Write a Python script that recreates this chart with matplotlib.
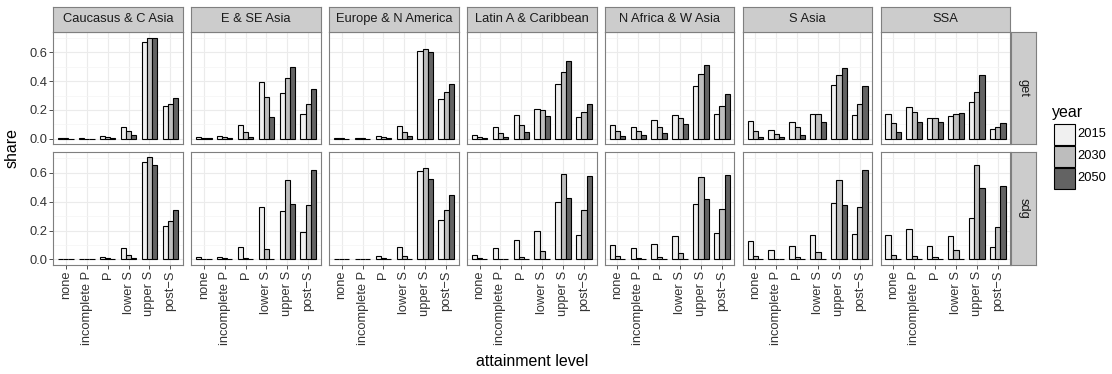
import matplotlib
matplotlib.use("Agg")
import matplotlib.pyplot as plt
from matplotlib.patches import Rectangle
import numpy as np

plt.rcParams['font.family'] = ['Liberation Sans', 'DejaVu Sans']

regions = ["Caucasus & C Asia", "E & SE Asia", "Europe & N America",
           "Latin A & Caribbean", "N Africa & W Asia", "S Asia", "SSA"]
levels = ["none", "incomplete P", "P", "lower S", "upper S", "post\u2212S"]
years = ["2015", "2030", "2050"]
scenarios = ["get", "sdg"]
year_colors = ["#f0f0f0", "#bdbdbd", "#636363"]

# share by region (rows) and attainment level (columns)
get_2015 = [[0.004, 0.003, 0.020, 0.085, 0.669, 0.228],
            [0.016, 0.020, 0.097, 0.391, 0.317, 0.172],
            [0.004, 0.004, 0.021, 0.087, 0.611, 0.276],
            [0.028, 0.080, 0.163, 0.209, 0.377, 0.149],
            [0.097, 0.085, 0.129, 0.168, 0.366, 0.172],
            [0.124, 0.064, 0.120, 0.172, 0.372, 0.166],
            [0.172, 0.221, 0.145, 0.156, 0.257, 0.069]]
get_2030 = [[0.003, 0.002, 0.011, 0.053, 0.701, 0.244],
            [0.009, 0.014, 0.046, 0.287, 0.418, 0.241],
            [0.003, 0.003, 0.011, 0.051, 0.621, 0.322],
            [0.016, 0.039, 0.099, 0.200, 0.464, 0.189],
            [0.057, 0.057, 0.083, 0.143, 0.448, 0.228],
            [0.055, 0.037, 0.080, 0.172, 0.439, 0.239],
            [0.108, 0.186, 0.143, 0.172, 0.324, 0.083]]
get_2050 = [[0.002, 0.001, 0.006, 0.028, 0.697, 0.280],
            [0.005, 0.009, 0.016, 0.152, 0.497, 0.345],
            [0.002, 0.002, 0.006, 0.023, 0.600, 0.377],
            [0.007, 0.016, 0.046, 0.156, 0.540, 0.244],
            [0.023, 0.028, 0.039, 0.103, 0.510, 0.313],
            [0.011, 0.011, 0.030, 0.115, 0.490, 0.363],
            [0.046, 0.115, 0.120, 0.182, 0.439, 0.110]]
sdg_2015 = [[0.005, 0.003, 0.018, 0.080, 0.671, 0.228],
            [0.014, 0.018, 0.083, 0.366, 0.338, 0.191],
            [0.004, 0.004, 0.021, 0.087, 0.614, 0.276],
            [0.030, 0.080, 0.133, 0.198, 0.400, 0.172],
            [0.097, 0.076, 0.110, 0.159, 0.382, 0.186],
            [0.124, 0.064, 0.094, 0.166, 0.389, 0.175],
            [0.170, 0.207, 0.094, 0.159, 0.290, 0.085]]
sdg_2030 = [[0.002, 0.001, 0.007, 0.028, 0.706, 0.267],
            [0.005, 0.009, 0.009, 0.074, 0.549, 0.375],
            [0.002, 0.002, 0.007, 0.025, 0.632, 0.340],
            [0.007, 0.005, 0.016, 0.055, 0.591, 0.340],
            [0.021, 0.007, 0.016, 0.044, 0.572, 0.352],
            [0.021, 0.005, 0.016, 0.053, 0.549, 0.366],
            [0.030, 0.021, 0.016, 0.067, 0.653, 0.223]]
sdg_2050 = [[0.001, 0.001, 0.002, 0.009, 0.653, 0.343],
            [0.002, 0.004, 0.002, 0.002, 0.386, 0.618],
            [0.001, 0.001, 0.002, 0.005, 0.556, 0.446],
            [0.002, 0.002, 0.005, 0.002, 0.428, 0.575],
            [0.005, 0.002, 0.004, 0.004, 0.416, 0.586],
            [0.005, 0.002, 0.005, 0.002, 0.377, 0.621],
            [0.005, 0.005, 0.004, 0.002, 0.492, 0.510]]

data = {"get": [get_2015, get_2030, get_2050],
        "sdg": [sdg_2015, sdg_2030, sdg_2050]}

W, H = 1112, 374
fig = plt.figure(figsize=(W / 100, H / 100), dpi=100)
fig.patch.set_facecolor("white")

small = 9.3
big = 11.5


def fbox(x0, y0, x1, y1):
    """Pixel box (top-left origin) to figure fraction [l, b, w, h]."""
    return [x0 / W, 1 - y1 / H, (x1 - x0) / W, (y1 - y0) / H]


border = "#7f7f7f"
strip_fill = "#cccccc"
panel_w = 129.6
pitch = 137.9
left0 = 53.3
row_y = [(31.7, 144.0), (152.3, 264.5)]
strip_top = (6.7, 31.7)

ymax = max(np.max(data[s][k]) for s in scenarios for k in range(3))
ylim = (-0.05 * ymax, 1.05 * ymax)
xpos = np.arange(1, len(levels) + 1)
bw = 0.25

for r, scen in enumerate(scenarios):
    for c, reg in enumerate(regions):
        x0 = left0 + c * pitch
        y0, y1 = row_y[r]
        ax = fig.add_axes(fbox(x0, y0, x0 + panel_w, y1))
        ax.set_facecolor("white")
        for k in range(3):
            vals = data[scen][k][c]
            ax.bar(xpos + (k - 1) * bw, vals, width=bw,
                   color=year_colors[k], edgecolor="black",
                   linewidth=0.8, zorder=3)
        ax.set_xlim(0.4, len(levels) + 0.6)
        ax.set_ylim(*ylim)
        ax.set_yticks([0.0, 0.2, 0.4, 0.6])
        ax.set_yticks([0.1, 0.3, 0.5, 0.7], minor=True)
        ax.set_xticks(xpos)
        ax.grid(which="major", color="#ebebeb", linewidth=0.8, zorder=0)
        ax.grid(which="minor", axis="y", color="#f4f4f4", linewidth=0.5, zorder=0)
        ax.set_axisbelow(True)
        for sp in ax.spines.values():
            sp.set_color(border)
            sp.set_linewidth(0.8)
        ax.tick_params(which="minor", length=0)
        ax.tick_params(which="major", length=3.0, width=0.6, color="#333333",
                       labelsize=small, labelcolor="#333333", pad=1.5)
        if c == 0:
            ax.set_yticklabels(["0.0", "0.2", "0.4", "0.6"])
        else:
            ax.tick_params(axis="y", length=0, labelleft=False)
        if r == 1:
            ax.set_xticklabels(levels, rotation=90, ha="center", va="top")
        else:
            ax.tick_params(axis="x", length=0, labelbottom=False)

        # column strip
        if r == 0:
            sax = fig.add_axes(fbox(x0, strip_top[0], x0 + panel_w, strip_top[1]))
            sax.set_facecolor(strip_fill)
            sax.set_xticks([]); sax.set_yticks([])
            for sp in sax.spines.values():
                sp.set_color(border); sp.set_linewidth(0.8)
            sax.text(0.5, 0.5, reg, ha="center", va="center", fontsize=small,
                     color="#1a1a1a", transform=sax.transAxes)

    # row strip
    rx0 = left0 + 6 * pitch + panel_w + 1.0
    rax = fig.add_axes(fbox(rx0, row_y[r][0], rx0 + 24.5, row_y[r][1]))
    rax.set_facecolor(strip_fill)
    rax.set_xticks([]); rax.set_yticks([])
    for sp in rax.spines.values():
        sp.set_color(border); sp.set_linewidth(0.8)
    rax.text(0.5, 0.5, scen, ha="center", va="center", rotation=-90,
             fontsize=small, color="#1a1a1a", transform=rax.transAxes)

# axis titles
fig.text(12 / W, 1 - 148 / H, "share", rotation=90, ha="center", va="center",
         fontsize=big, color="black")
fig.text(532 / W, 1 - 362 / H, "attainment level", ha="center", va="center",
         fontsize=big, color="black")

# legend
fig.text(1051.7 / W, 1 - 112.5 / H, "year", ha="left", va="center",
         fontsize=big, color="black")
key_top = 123.3
key_h = 22.0
for k, yr in enumerate(years):
    ky0 = key_top + k * key_h
    fig.add_artist(Rectangle((1053.5 / W, 1 - (ky0 + key_h - 0.5) / H),
                             (key_h - 1) / W, (key_h - 1) / H,
                             transform=fig.transFigure, facecolor=year_colors[k],
                             edgecolor="black", linewidth=0.8))
    fig.text(1077 / W, 1 - (ky0 + key_h / 2) / H, yr, ha="left", va="center",
             fontsize=small, color="black")

fig.savefig("out.png", dpi=100)
